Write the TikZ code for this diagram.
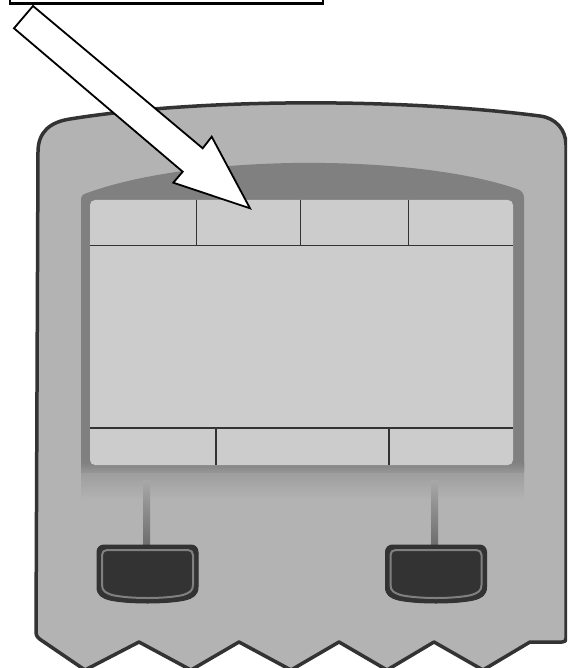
\documentclass[tikz,border=0pt]{standalone}
\usepackage{tikz}
\definecolor{bodyc}{HTML}{B3B3B3}
\definecolor{bezelc}{HTML}{808080}
\definecolor{screenc}{HTML}{CCCCCC}
\definecolor{linec}{HTML}{333333}
\definecolor{shadowc}{HTML}{959595}
\definecolor{stemtop}{HTML}{A8A8A8}
\definecolor{stembot}{HTML}{6C6C6C}
\tikzset{
  outline/.style={draw=linec, line width=3.5pt, line join=round},
  divider/.style={draw=linec, line width=1.4pt},
  arrowshape/.style={draw=black, fill=white, line width=1.8pt, line join=miter},
  keypad/.pic={
    \path[fill=linec, draw=linec, line width=1pt]
      (7,0) -- (94,0) .. controls (98,0) and (101,3) .. (101,7) -- (101,42)
      .. controls (101,50) and (96,53) .. (88,55)
      .. controls (70,59) and (31,59) .. (13,55)
      .. controls (5,53) and (0,50) .. (0,42) -- (0,7)
      .. controls (0,3) and (3,0) .. (7,0) -- cycle;
    \path[fill=linec, draw=bezelc, line width=2pt]
      (10,5) -- (91,5) .. controls (94,5) and (96,7) .. (96,10) -- (96,40)
      .. controls (96,46) and (92,48) .. (86,50)
      .. controls (68,54) and (33,54) .. (15,50)
      .. controls (9,48) and (5,46) .. (5,40) -- (5,10)
      .. controls (5,7) and (7,5) .. (10,5) -- cycle;
  }
}
\begin{document}
\begin{tikzpicture}[x=1pt,y=-1pt]
\useasboundingbox (0,0) rectangle (567,668);
\clip (0,0) rectangle (567,668);
\fill[white] (0,0) rectangle (567,668);

% device body
\path[fill=bodyc, outline]
  (36,632) -- (38,152) .. controls (38,132) and (50,122) .. (70,119)
  .. controls (200,98) and (400,98) .. (540,116)
  .. controls (556,118) and (566,130) .. (566,145)
  -- (566,638) .. controls (566,641) and (565,642) .. (562,642)
  -- (530,642) -- (483,670) -- (434,642) -- (387,670) -- (339,642)
  -- (291,670) -- (239,642) -- (191,670) -- (139,642) -- (85,670)
  -- (41,640) .. controls (38,638) and (36,636) .. (36,632) -- cycle;

% bezel with fading shadow below
\shade[top color=shadowc, bottom color=bodyc] (81,462) rectangle (524,500);
\fill[bezelc]
  (81,470) -- (81,200) .. controls (81,196) and (83,194) .. (87,193)
  .. controls (200,152) and (420,155) .. (517,189)
  .. controls (521,190) and (524,193) .. (524,198) -- (524,470) -- cycle;
\shade[top color=bezelc, bottom color=shadowc] (81,462) rectangle (524,472);

% screen
\fill[screenc, rounded corners=5pt] (90,200) rectangle (513,465);
\draw[divider] (90,245.5) -- (513,245.5);
\draw[divider] (196.7,200) -- (196.7,245.5);
\draw[divider] (300.7,200) -- (300.7,245.5);
\draw[divider] (408.3,200) -- (408.3,245.5);
\draw[divider] (90,428) -- (513,428);
\draw[divider] (216,428) -- (216,465);
\draw[divider] (389,428) -- (389,465);

% stems
\shade[top color=stemtop, bottom color=stembot] (143,480) rectangle (150,546);
\shade[top color=stemtop, bottom color=stembot] (431,480) rectangle (438,546);

% keys
\pic at (97,545) {keypad};
\pic at (385.5,545) {keypad};

% callout box (cut at top)
\draw[black, line width=2.4pt] (10,-6) rectangle (323,3.5);

% arrow
\path[arrowshape]
  (33,6) -- (202.7,148.3) -- (211.7,136.7) -- (250,208.3)
  -- (173.3,182.7) -- (182.7,171.7) -- (14,28.3) -- cycle;
\end{tikzpicture}
\end{document}
